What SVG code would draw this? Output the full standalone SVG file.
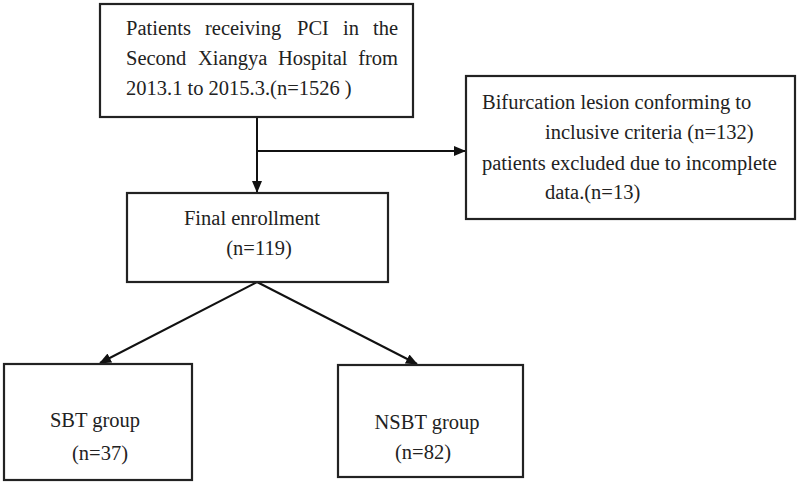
<svg xmlns="http://www.w3.org/2000/svg" width="800" height="485" viewBox="0 0 800 485">
<defs>
<marker id="ah" markerWidth="12" markerHeight="10" refX="11" refY="5" orient="auto" markerUnits="userSpaceOnUse">
<path d="M0,0 L12,5 L0,10 Z" fill="#111"/>
</marker>
<style>
.box{fill:#fff;stroke:#222;stroke-width:2.2}
.t{font-family:"Liberation Serif","Times New Roman","DejaVu Serif",serif;font-size:20.5px;fill:#222}
.c{text-anchor:middle}
.e{text-anchor:end}
.ln{stroke:#111;stroke-width:2;fill:none}
</style>
</defs>
<rect width="800" height="485" fill="#fff"/>
<g id="connectors">
<line class="ln" x1="257" y1="117" x2="257" y2="192" marker-end="url(#ah)"/>
<line class="ln" x1="257" y1="151" x2="465" y2="151" marker-end="url(#ah)"/>
<line class="ln" x1="257" y1="282" x2="100" y2="363" marker-end="url(#ah)"/>
<line class="ln" x1="257" y1="282" x2="417" y2="364" marker-end="url(#ah)"/>
</g>
<g id="node-patients">
<rect class="box" x="100" y="4" width="313" height="113"/>
<text class="t" y="35"><tspan x="126">Patients</tspan><tspan x="205">receiving</tspan><tspan x="297">PCI</tspan><tspan x="343">in</tspan><tspan x="398" class="e">the</tspan></text>
<text class="t" y="65"><tspan x="126">Second</tspan><tspan x="198">Xiangya</tspan><tspan x="278">Hospital</tspan><tspan x="398" class="e">from</tspan></text>
<text class="t" x="126" y="95">2013.1 to 2015.3.(n=1526 )</text>
</g>
<g id="node-bifurcation">
<rect class="box" x="466" y="76" width="329" height="143"/>
<text class="t" x="482" y="109">Bifurcation lesion conforming to</text>
<text class="t" x="545" y="139">inclusive criteria (n=132)</text>
<text class="t" x="482" y="170">patients excluded due to incomplete</text>
<text class="t" x="545" y="199">data.(n=13)</text>
</g>
<g id="node-final">
<rect class="box" x="127" y="193" width="261" height="89"/>
<text class="t c" x="252" y="225">Final enrollment</text>
<text class="t c" x="259" y="255">(n=119)</text>
</g>
<g id="node-sbt">
<rect class="box" x="4" y="364" width="188" height="116"/>
<text class="t c" x="95" y="427">SBT group</text>
<text class="t c" x="100" y="460">(n=37)</text>
</g>
<g id="node-nsbt">
<rect class="box" x="338" y="365" width="185" height="112"/>
<text class="t c" x="427" y="429">NSBT group</text>
<text class="t c" x="423" y="459">(n=82)</text>
</g>
</svg>
